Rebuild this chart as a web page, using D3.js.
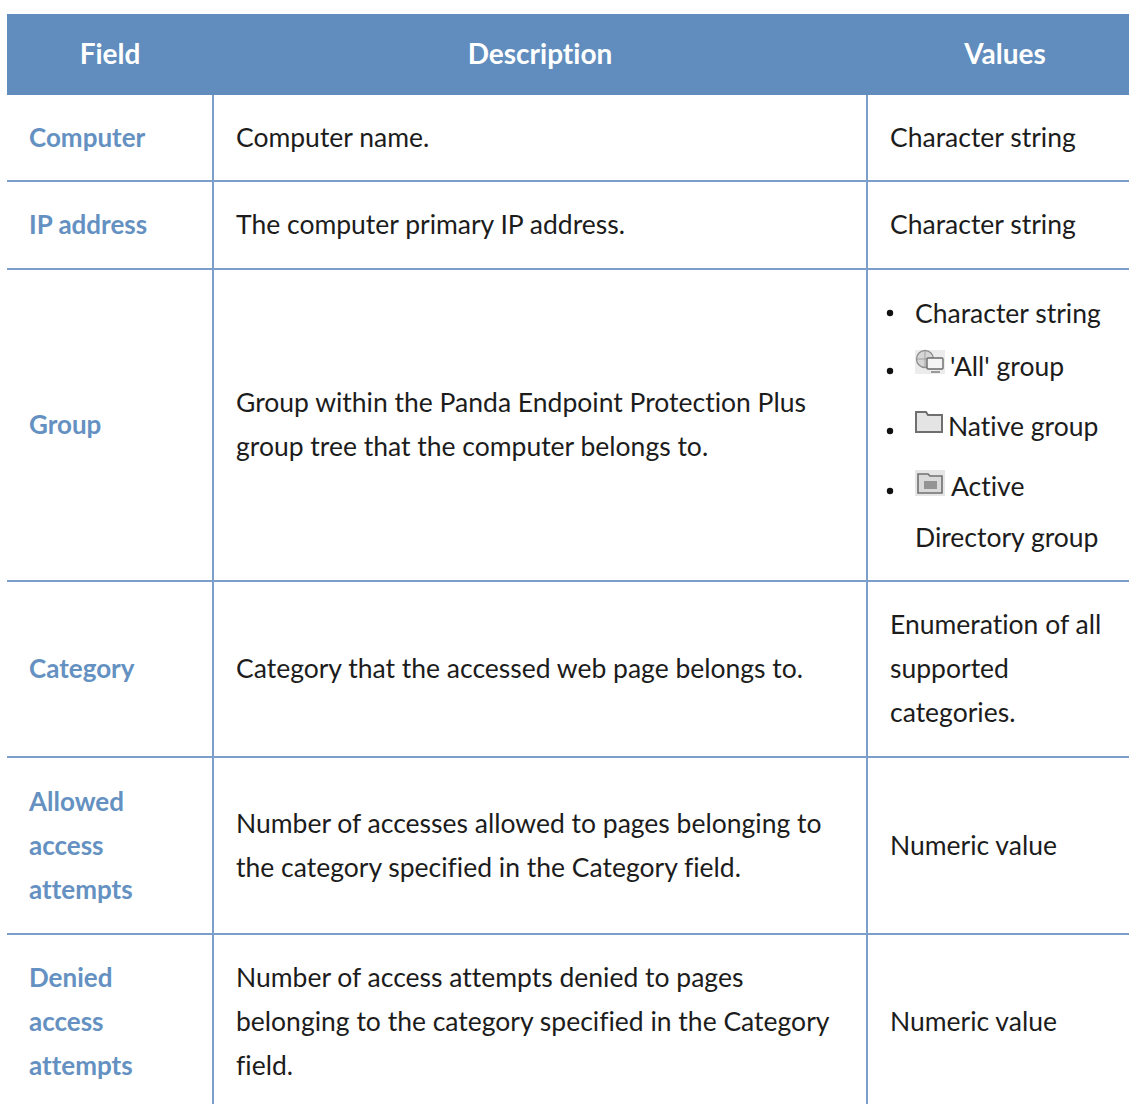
<!DOCTYPE html>
<html>
<head>
<meta charset="utf-8">
<script src="https://cdn.jsdelivr.net/npm/d3@7"></script>
<style>
  html, body { margin: 0; background: #fff; overflow: hidden; }
  text { font-family: "Lato", sans-serif; font-variant-ligatures: none; }
</style>
</head>
<body>
<div id="stage"></div>
<script>
// Table content, one list per column
const HEADERS = ["Field", "Description", "Values"];
const FIELDS = [
  ["Computer"],
  ["IP address"],
  ["Group"],
  ["Category"],
  ["Allowed", "access", "attempts"],
  ["Denied", "access", "attempts"],
];
const DESCRIPTIONS = [
  ["Computer name."],
  ["The computer primary IP address."],
  ["Group within the Panda Endpoint Protection Plus", "group tree that the computer belongs to."],
  ["Category that the accessed web page belongs to."],
  ["Number of accesses allowed to pages belonging to", "the category specified in the Category field."],
  ["Number of access attempts denied to pages", "belonging to the category specified in the Category", "field."],
];
const VALUES = [
  ["Character string"],
  ["Character string"],
  [],
  ["Enumeration of all", "supported", "categories."],
  ["Numeric value"],
  ["Numeric value"],
];
// The Group row holds a bullet list instead of plain lines
const GROUP_ROW = 2;
const GROUP_LIST = [
  { text: ["Character string"], icon: null },
  { text: ["'All' group"], icon: "all" },
  { text: ["Native group"], icon: "native" },
  { text: ["Active", "Directory group"], icon: "ad" },
];

const W = 1129, H = 1104;
const BLUE = "#608dbe", LINE = "#7d9ec9", TEXT_BLUE = "#6491c1", INK = "#1c1c1c";
const FONT = 26.5, LINE_H = 44;

const svg = d3.select("#stage").append("svg").attr("width", W).attr("height", H).style("display", "block");

// columns: left margin, two rules, right edge
const colX = [7, 213, 867, W];
const headTop = 14, headBottom = 95;

// Row heights follow line count, the list row is taller
const groupH = 312;
const rowH = FIELDS.map((f, i) => i === GROUP_ROW ? groupH
  : LINE_H * (Math.max(f.length, DESCRIPTIONS[i].length, VALUES[i].length) + 1));
rowH[0] = 86;
rowH[4] = 177;
const rowTop = [];
rowH.reduce((y, h, i) => { rowTop[i] = y; return y + h; }, headBottom);

// header
svg.append("rect").attr("x", colX[0]).attr("y", headTop)
  .attr("width", W - colX[0]).attr("height", headBottom - headTop).attr("fill", BLUE);

svg.append("g").selectAll("text").data(HEADERS).enter().append("text")
  .attr("x", (d, i) => [110, 540, 1005][i])
  .attr("y", (headTop + headBottom) / 2 - 0.5)
  .attr("dy", "0.35em")
  .attr("text-anchor", "middle")
  .attr("fill", "#fff")
  .attr("font-size", 28)
  .attr("font-weight", 700)
  .text((d) => d);

// rules
svg.append("g").selectAll("line").data(rowTop.slice(1)).enter().append("line")
  .attr("x1", colX[0]).attr("x2", W).attr("y1", (d) => d).attr("y2", (d) => d)
  .attr("stroke", LINE).attr("stroke-width", 2);
svg.append("g").selectAll("line").data(colX.slice(1, 3)).enter().append("line")
  .attr("x1", (d) => d).attr("x2", (d) => d).attr("y1", headBottom).attr("y2", H)
  .attr("stroke", LINE).attr("stroke-width", 2);

// one block of lines, vertically centred in its row
function drawCell(lines, x, rowIdx, opts) {
  const mid = rowTop[rowIdx] + rowH[rowIdx] / 2;
  const top = mid - (lines.length - 1) * LINE_H / 2;
  svg.append("g").selectAll("text").data(lines).enter().append("text")
    .attr("x", x)
    .attr("y", (d, i) => top + i * LINE_H)
    .attr("dy", "0.35em")
    .attr("font-size", opts.size)
    .attr("font-weight", opts.weight)
    .attr("fill", opts.color)
    .text((d) => d);
}

FIELDS.forEach((f, i) => drawCell(f, 29, i, { size: 26, weight: 700, color: TEXT_BLUE }));
DESCRIPTIONS.forEach((f, i) => drawCell(f, 236, i, { size: FONT, weight: 400, color: INK }));
VALUES.forEach((f, i) => drawCell(f, 890, i, { size: FONT, weight: 400, color: INK }));

// group list: bullets, icons, labels
const listY = [314, 367, 427, 487];
const listText = 915, iconTextGap = { all: 35, native: 33, ad: 36 };
const listG = svg.append("g");

function drawIcon(kind, x, y) {
  const g = listG.append("g").attr("transform", `translate(${x},${y})`);
  if (kind === "all") {
    g.append("rect").attr("width", 30).attr("height", 24).attr("fill", "#ececec");
    g.append("circle").attr("cx", 10).attr("cy", 9).attr("r", 8.5).attr("fill", "#d6d6d6").attr("stroke", "#8e8e8e").attr("stroke-width", 1.3);
    g.append("path").attr("d", "M1.5 9H18.5M10 .5V17.5").attr("stroke", "#a0a0a0").attr("fill", "none");
    g.append("rect").attr("x", 12).attr("y", 8).attr("width", 16).attr("height", 11).attr("rx", 1).attr("fill", "#f4f4f4").attr("stroke", "#6a6a6a").attr("stroke-width", 1.4);
    g.append("path").attr("d", "M16 22H25").attr("stroke", "#808080").attr("stroke-width", 1.5);
  } else if (kind === "native") {
    g.append("path").attr("d", "M1 22V2H11L13 5H27V22Z").attr("fill", "#e4e4e4").attr("stroke", "#6f6f6f").attr("stroke-width", 2);
  } else {
    g.append("rect").attr("width", 30).attr("height", 26).attr("fill", "#e6e6e6");
    g.append("path").attr("d", "M3 23V4H13L15 6H27V23Z").attr("fill", "#dadada").attr("stroke", "#707070").attr("stroke-width", 1.6);
    g.append("rect").attr("x", 9).attr("y", 11).attr("width", 13).attr("height", 8).attr("fill", "#949494");
  }
}

GROUP_LIST.forEach((item, i) => {
  const y = listY[i];
  listG.append("circle").attr("cx", 890).attr("cy", item.icon ? y + 4 : y - 1).attr("r", 3.2).attr("fill", "#111");
  if (item.icon) drawIcon(item.icon, listText, y - 17);
  item.text.forEach((t, k) => {
    listG.append("text")
      .attr("x", k === 0 && item.icon ? listText + iconTextGap[item.icon] : listText)
      .attr("y", y + k * 51)
      .attr("dy", "0.35em")
      .attr("font-size", FONT)
      .attr("fill", INK)
      .text(t);
  });
});
</script>
</body>
</html>
